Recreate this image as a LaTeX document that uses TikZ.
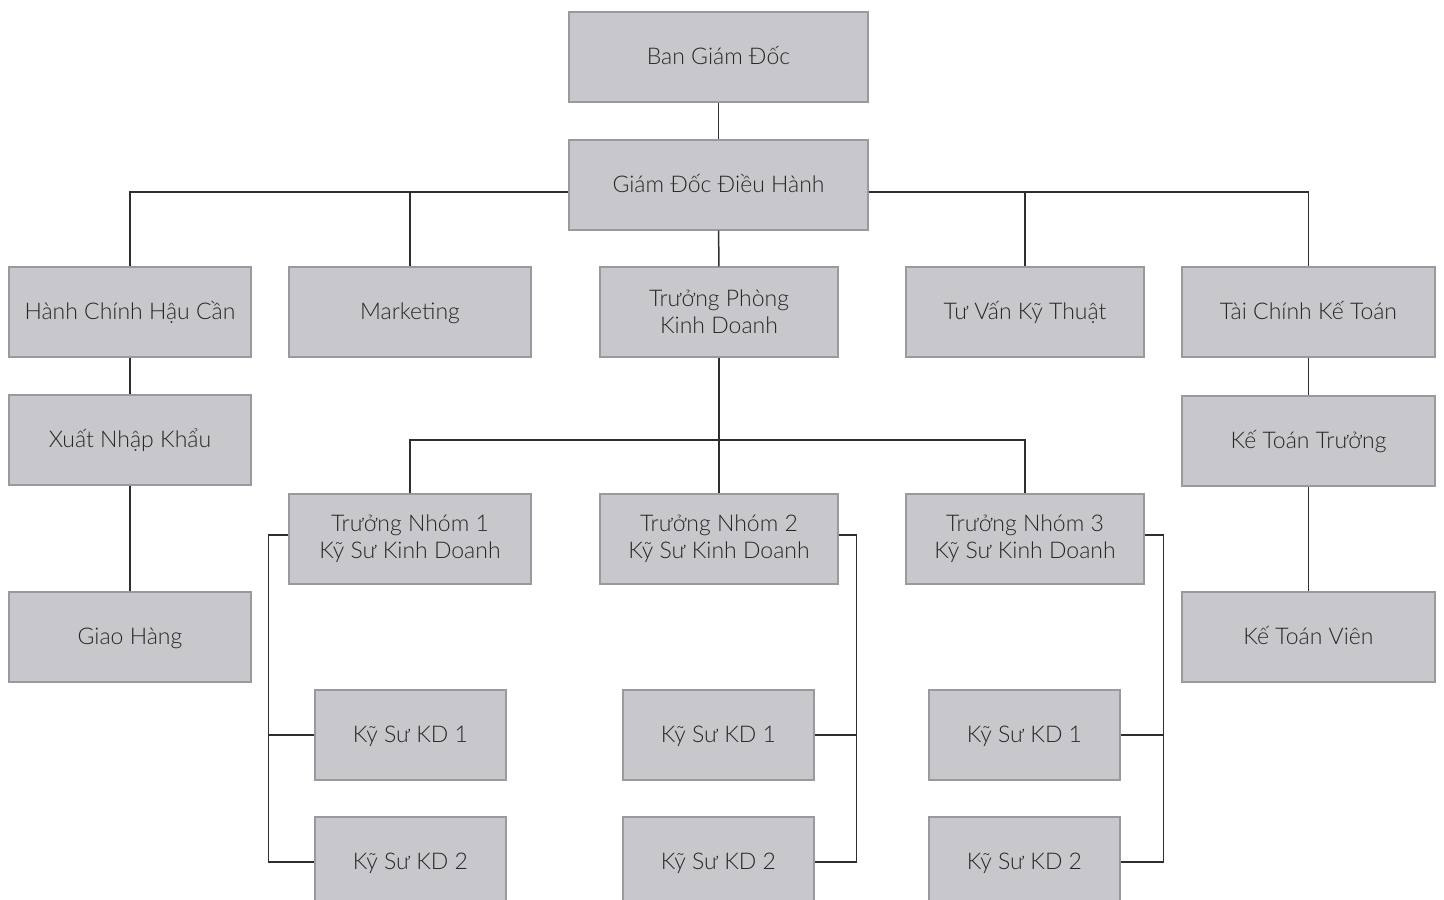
\documentclass[tikz,border=0pt]{standalone}
\usepackage{fontspec}
\setmainfont{Lato Light}
\usetikzlibrary{positioning}
\definecolor{boxfill}{HTML}{C8C8CC}
\definecolor{boxline}{HTML}{9A9A9E}
\definecolor{linkline}{HTML}{2E2E2E}

\begin{document}
\begin{tikzpicture}[x=1pt,y=-1pt,
    box/.style={draw=boxline,fill=boxfill,line width=1.2pt,minimum height=90pt,
      inner sep=0pt,align=center,text=black!85,font=\fontsize{23}{27}\selectfont},
    one/.style={text height=19pt,text depth=4pt},
    wbox/.style={box,minimum width=242pt},
    mbox/.style={box,minimum width=238pt},
    rbox/.style={box,minimum width=253pt},
    kdbox/.style={box,one,minimum width=191pt},
    link/.style={draw=linkline,line width=1.5pt}]
  \clip (0,0) rectangle (1444,900);
  % top
  \node[box,one,minimum width=299pt] (bgd) at (718.5,57) {Ban Giám Đốc};
  \node[box,one,minimum width=299pt] (gd) at (718.5,185) {Giám Đốc Điều Hành};
  % departments
  \node[wbox,one] (hc) at (130,312) {Hành Chính Hậu Cần};
  \node[wbox,one] (mk) at (410,312) {Marketing};
  \node[mbox] (tp) at (719,312) {Trưởng Phòng\\Kinh Doanh};
  \node[mbox,one] (tv) at (1025,312) {Tư Vấn Kỹ Thuật};
  \node[rbox,one] (tc) at (1308.5,312) {Tài Chính Kế Toán};
  \node[wbox,one] (xn) at (130,440) {Xuất Nhập Khẩu};
  \node[wbox,one] (gh) at (130,637) {Giao Hàng};
  \node[rbox,one] (ktt) at (1308.5,441) {Kế Toán Trưởng};
  \node[rbox,one] (ktv) at (1308.5,637) {Kế Toán Viên};
  % sales teams
  \node[wbox] (tn1) at (410,539) {Trưởng Nhóm 1\\Kỹ Sư Kinh Doanh};
  \node[mbox] (tn2) at (719,539) {Trưởng Nhóm 2\\Kỹ Sư Kinh Doanh};
  \node[mbox] (tn3) at (1025,539) {Trưởng Nhóm 3\\Kỹ Sư Kinh Doanh};
  \node[kdbox] (a1) at (410.5,735) {Kỹ Sư KD 1};
  \node[kdbox] (a2) at (410.5,862) {Kỹ Sư KD 2};
  \node[kdbox] (b1) at (718.5,735) {Kỹ Sư KD 1};
  \node[kdbox] (b2) at (718.5,862) {Kỹ Sư KD 2};
  \node[kdbox] (c1) at (1024.5,735) {Kỹ Sư KD 1};
  \node[kdbox] (c2) at (1024.5,862) {Kỹ Sư KD 2};
  \coordinate (tsplit) at (719,440);

  \draw[link] (bgd) -- (gd);
  \draw[link] ([yshift=-7pt]gd.west) -| (hc.north);
  \draw[link] ([yshift=-7pt]gd.west) -| (mk.north);
  \draw[link] ([yshift=-7pt]gd.east) -| (tv.north);
  \draw[link] ([yshift=-7pt]gd.east) -| (tc.north);
  \draw[link] (gd) -- (tp);
  \draw[link] (hc) -- (xn);
  \draw[link] (xn) -- (gh);
  \draw[link] (tc) -- (ktt);
  \draw[link] (ktt) -- (ktv);
  \draw[link] (tp) -- (tn2);
  \draw[link] (tn1.north) |- (tsplit) -| (tn3.north);
  \draw[link] ([yshift=4pt]tn1.west) -- ++(-20,0) coordinate (r1) |- (a2.west);
  \draw[link] (a1.west) -- (r1 |- a1.west);
  \draw[link] ([yshift=4pt]tn2.east) -- ++(18,0) coordinate (r2) |- (b2.east);
  \draw[link] (b1.east) -- (r2 |- b1.east);
  \draw[link] ([yshift=4pt]tn3.east) -- ++(19,0) coordinate (r3) |- (c2.east);
  \draw[link] (c1.east) -- (r3 |- c1.east);
\end{tikzpicture}
\end{document}
